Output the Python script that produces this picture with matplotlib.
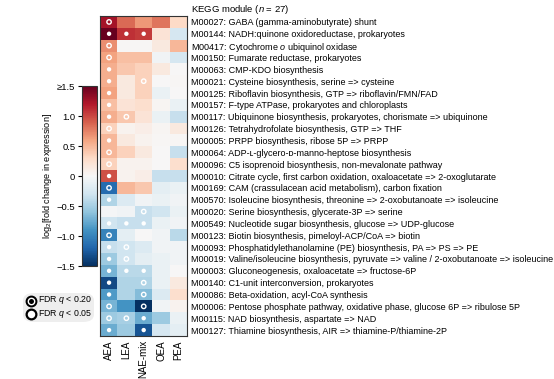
import numpy as np
import matplotlib
matplotlib.use("Agg")
import matplotlib.pyplot as plt
from matplotlib.patches import FancyBboxPatch
from matplotlib.lines import Line2D

plt.rcParams['font.family'] = ['Liberation Sans', 'DejaVu Sans']
plt.rcParams['mathtext.fontset'] = 'custom'
plt.rcParams['mathtext.rm'] = 'Liberation Sans'
plt.rcParams['mathtext.it'] = 'Liberation Sans:italic'

columns = ["AEA", "LEA", "NAE-mix", "OEA", "PEA"]

modules = [
    "M00027: GABA (gamma-aminobutyrate) shunt",
    "M00144: NADH:quinone oxidoreductase, prokaryotes",
    "M00417: Cytochrome $o$ ubiquinol oxidase",
    "M00150: Fumarate reductase, prokaryotes",
    "M00063: CMP-KDO biosynthesis",
    "M00021: Cysteine biosynthesis, serine => cysteine",
    "M00125: Riboflavin biosynthesis, GTP => riboflavin/FMN/FAD",
    "M00157: F-type ATPase, prokaryotes and chloroplasts",
    "M00117: Ubiquinone biosynthesis, prokaryotes, chorismate => ubiquinone",
    "M00126: Tetrahydrofolate biosynthesis, GTP => THF",
    "M00005: PRPP biosynthesis, ribose 5P => PRPP",
    "M00064: ADP-\u029f-glycero-\u1d05-manno-heptose biosynthesis",
    "M00096: C5 isoprenoid biosynthesis, non-mevalonate pathway",
    "M00010: Citrate cycle, first carbon oxidation, oxaloacetate => 2-oxoglutarate",
    "M00169: CAM (crassulacean acid metabolism), carbon fixation",
    "M00570: Isoleucine biosynthesis, threonine => 2-oxobutanoate => isoleucine",
    "M00020: Serine biosynthesis, glycerate-3P => serine",
    "M00549: Nucleotide sugar biosynthesis, glucose => UDP-glucose",
    "M00123: Biotin biosynthesis, pimeloyl-ACP/CoA => biotin",
    "M00093: Phosphatidylethanolamine (PE) biosynthesis, PA => PS => PE",
    "M00019: Valine/isoleucine biosynthesis, pyruvate => valine / 2-oxobutanoate => isoleucine",
    "M00003: Gluconeogenesis, oxaloacetate => fructose-6P",
    "M00140: C1-unit interconversion, prokaryotes",
    "M00086: Beta-oxidation, acyl-CoA synthesis",
    "M00006: Pentose phosphate pathway, oxidative phase, glucose 6P => ribulose 5P",
    "M00115: NAD biosynthesis, aspartate => NAD",
    "M00127: Thiamine biosynthesis, AIR => thiamine-P/thiamine-2P",
]

# log2 fold change per column
AEA = [1.25, 1.7, 0.7, 0.6, 0.55, 0.55, 0.6, 0.45, 0.55, 0.35, 0.5, 0.5, 0.35, 0.95,
       -1.15, -0.45, -0.02, -0.3, -1.0, -0.35, -0.55, -0.7, -1.35, -0.85, -0.7, -0.55, -0.75]
LEA = [0.85, 1.1, 0.02, 0.45, 0.4, 0.15, 0.15, 0.2, 0.4, 0.05, 0.15, 0.35, 0.05, 0.05,
       0.5, -0.2, -0.05, -0.35, -0.15, -0.3, -0.3, -0.4, -0.45, -0.45, -0.9, -0.5, -0.55]
NAE = [0.65, 1.05, 0.02, 0.45, 0.35, 0.35, 0.35, 0.25, 0.2, 0.1, 0.05, 0.15, 0.05, 0.1,
       0.4, -0.05, -0.35, -0.35, 0.0, -0.2, -0.15, -0.4, -0.45, -0.65, -1.5, -0.75, -1.3]
OEA = [0.8, 0.2, 0.15, -0.05, 0.15, 0.0, -0.1, 0.03, -0.1, 0.03, 0.02, 0.0, 0.0, -0.35,
       -0.15, -0.1, -0.3, -0.1, -0.05, -0.05, -0.1, -0.1, -0.1, -0.2, -0.05, -0.55, -0.25]
PEA = [0.3, -0.25, 0.5, -0.25, 0.0, 0.02, 0.0, -0.1, -0.35, 0.15, 0.02, -0.35, 0.25, -0.35,
       -0.1, -0.05, -0.1, -0.05, -0.4, -0.05, -0.05, 0.0, 0.15, 0.25, 0.05, -0.1, -0.15]

# significance: 0 none, 1 FDR q<0.20 (ring), 2 FDR q<0.05 (filled)
sig_AEA = [1, 2, 1, 1, 2, 2, 2, 2, 2, 1, 2, 1, 1, 2, 1, 2, 0, 2, 1, 2, 2, 2, 2, 2, 1, 1, 2]
sig_LEA = [0, 2, 0, 0, 0, 0, 0, 0, 1, 0, 0, 0, 0, 0, 0, 0, 0, 2, 0, 1, 1, 2, 0, 0, 0, 1, 0]
sig_NAE = [0, 2, 0, 0, 0, 1, 0, 0, 0, 0, 0, 0, 0, 0, 0, 0, 1, 2, 0, 0, 0, 2, 1, 1, 1, 2, 2]
sig_OEA = [0] * 27
sig_PEA = [0] * 27

data = np.column_stack([AEA, LEA, NAE, OEA, PEA])
sig = np.column_stack([sig_AEA, sig_LEA, sig_NAE, sig_OEA, sig_PEA])

W, H = 554, 379
fig = plt.figure(figsize=(W / 100, H / 100), dpi=100)

def fx(px):
    return px / W

def fy(py):
    return 1 - py / H

# heatmap axes
ax = fig.add_axes([fx(100.4), fy(336), fx(187) - fx(100.4), fy(16) - fy(336)])
im = ax.imshow(data, cmap='RdBu_r', vmin=-1.5, vmax=1.5, aspect='auto',
               interpolation='nearest')
nrow, ncol = data.shape
rr, cc = np.nonzero(sig == 2)
ax.scatter(cc, rr, s=10, c='white', edgecolors='none', zorder=3)
rr, cc = np.nonzero(sig == 1)
ax.scatter(cc, rr, s=10, facecolors='none', edgecolors='white', linewidths=1.0, zorder=3)

ax.set_xticks(range(ncol))
ax.set_xticklabels(columns, rotation=90, fontsize=7)
ax.set_yticks(range(nrow))
ax.set_yticklabels(modules, fontsize=6.45)
ax.yaxis.tick_right()
ax.tick_params(axis='both', length=0, pad=3)
for sp in ax.spines.values():
    sp.set_color('#333333')
    sp.set_linewidth(0.8)

fig.text(fx(191), fy(9.5), "KEGG module ($n$ = 27)", fontsize=6.8, va='center', ha='left')

# colorbar
cax = fig.add_axes([fx(82.3), fy(266), fx(96.7) - fx(82.3), fy(86) - fy(266)])
cb = fig.colorbar(im, cax=cax)
cb.outline.set_edgecolor('#333333')
cb.outline.set_linewidth(0.8)
cax.yaxis.set_ticks_position('left')
cax.yaxis.set_label_position('left')
ticks = [-1.5, -1.0, -0.5, 0, 0.5, 1.0, 1.5]
tick_labels = ["\u22121.5", "\u22121.0", "\u22120.5", "0", "0.5", "1.0", "\u22651.5"]
cb.set_ticks(ticks)
cb.set_ticklabels(tick_labels)
cax.tick_params(labelsize=6.8, length=3, width=0.8, pad=2)
cb.set_label("log$_2$[fold change in expression]", fontsize=6.6, labelpad=2)

# significance legend
box = FancyBboxPatch((fx(23), fy(322)), fx(94) - fx(23), fy(293) - fy(322),
                     boxstyle="round,pad=0.0,rounding_size=0.02",
                     transform=fig.transFigure, facecolor='#eeeeee', edgecolor='none')
fig.patches.append(box)
fig.add_artist(Line2D([fx(31)], [fy(300.5)], marker='o', markersize=7.5,
                      markerfacecolor='black', markeredgecolor='black',
                      transform=fig.transFigure))
fig.add_artist(Line2D([fx(31)], [fy(300.5)], marker='o', markersize=4.6,
                      markerfacecolor='black', markeredgecolor='white', markeredgewidth=1.0,
                      transform=fig.transFigure))
fig.add_artist(Line2D([fx(31)], [fy(314)], marker='o', markersize=7.0,
                      markerfacecolor='white', markeredgecolor='black', markeredgewidth=1.6,
                      transform=fig.transFigure))
fig.text(fx(38), fy(300.5), "FDR $q$ < 0.20", fontsize=6.3, va='center', ha='left')
fig.text(fx(38), fy(314), "FDR $q$ < 0.05", fontsize=6.3, va='center', ha='left')

fig.savefig("out.png", dpi=100, facecolor='white')
